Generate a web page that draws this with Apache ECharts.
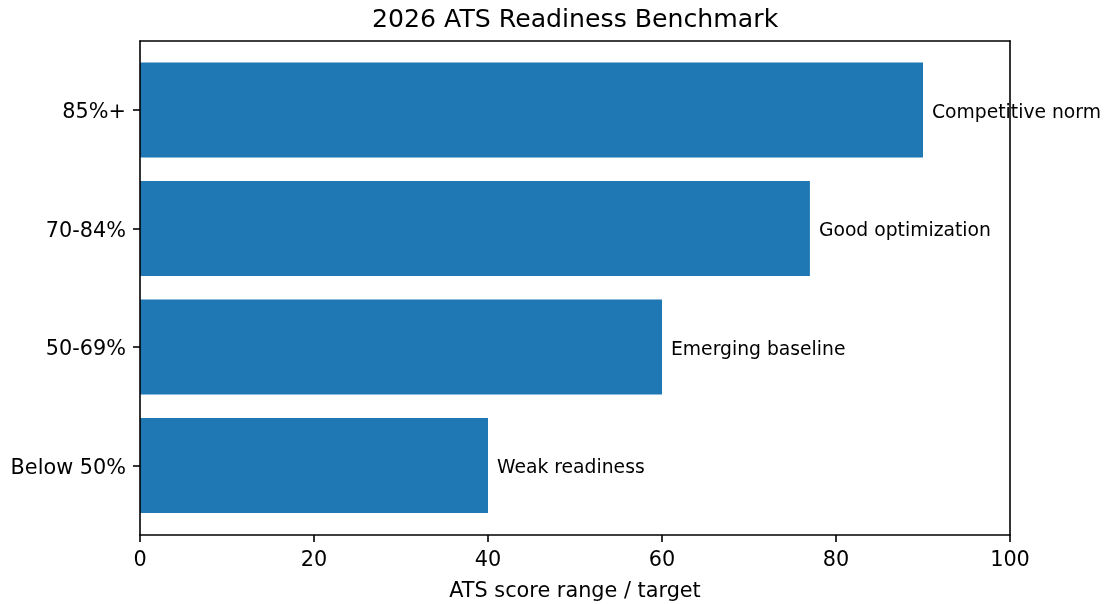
<!DOCTYPE html>
<html>
<head>
<meta charset="utf-8">
<script src="https://cdn.jsdelivr.net/npm/echarts@6/dist/echarts.min.js"></script>
<style>html,body{margin:0;padding:0;background:#fff;}#c{width:1106px;height:604px;}</style>
</head>
<body>
<div id="c"></div>
<script>
const categories = ['85%+', '70-84%', '50-69%', 'Below 50%'];
const values = [90, 77, 60, 40];
const barLabels = ['Competitive norm', 'Good optimization', 'Emerging baseline', 'Weak readiness'];
const xTicks = [0, 20, 40, 60, 80, 100];

const FONT = 'DejaVu Sans';
const chart = echarts.init(document.getElementById('c'), null, {renderer: 'canvas'});
const lineStyle = {color: '#000', width: 1.6};
const option = {
  animation: false,
  backgroundColor: '#fff',
  title: {
    text: '2026 ATS Readiness Benchmark',
    left: 367, top: 3,
    textStyle: {fontFamily: FONT, fontSize: 25.2, fontWeight: 'normal', color: '#000'}
  },
  grid: [
    {left: 140, right: 96, top: 50.75, height: 474, outerBoundsMode: 'none'},
    {left: 140, right: 96, top: 41, height: 494, outerBoundsMode: 'none'},
    {left: 140, right: 96, top: 53.75, height: 474, outerBoundsMode: 'none'}
  ],
  xAxis: [
    {gridIndex: 0, type: 'value', min: xTicks[0], max: xTicks[xTicks.length - 1], show: false},
    {gridIndex: 1, type: 'value', min: xTicks[0], max: xTicks[xTicks.length - 1], interval: 20,
     position: 'bottom', z: 10,
     axisLine: {show: true, onZero: false, lineStyle: lineStyle},
     axisTick: {show: true, length: 7, lineStyle: lineStyle},
     axisLabel: {show: true, margin: 15, fontFamily: FONT, fontSize: 20.8, color: '#000'},
     splitLine: {show: false},
     name: 'ATS score range / target', nameLocation: 'middle', nameGap: 46,
     nameTextStyle: {fontFamily: FONT, fontSize: 20.8, color: '#000'}},
    {gridIndex: 1, type: 'value', min: 0, max: 100, position: 'top', z: 10,
     axisLine: {show: true, onZero: false, lineStyle: lineStyle}, axisTick: {show: false},
     axisLabel: {show: false}, splitLine: {show: false}},
    {gridIndex: 2, type: 'value', min: 0, max: 100, show: false}
  ],
  yAxis: [
    {gridIndex: 0, type: 'category', data: categories, inverse: true,
     axisLine: {show: false},
     axisTick: {show: true, alignWithLabel: true, length: 7, lineStyle: lineStyle},
     axisLabel: {show: false},
     splitLine: {show: false}},
    {gridIndex: 1, type: 'value', min: 0, max: 1, position: 'left', z: 10,
     axisLine: {show: true, onZero: false, lineStyle: lineStyle}, axisTick: {show: false},
     axisLabel: {show: false}, splitLine: {show: false}},
    {gridIndex: 1, type: 'value', min: 0, max: 1, position: 'right', z: 10,
     axisLine: {show: true, onZero: false, lineStyle: lineStyle}, axisTick: {show: false},
     axisLabel: {show: false}, splitLine: {show: false}},
    {gridIndex: 2, type: 'category', data: categories, inverse: true,
     axisLine: {show: false}, axisTick: {show: false},
     axisLabel: {margin: 14, fontFamily: FONT, fontSize: 20.8, color: '#000'},
     splitLine: {show: false}}
  ],
  series: [{
    type: 'bar',
    xAxisIndex: 0, yAxisIndex: 0,
    data: values,
    barCategoryGap: '20%',
    itemStyle: {color: '#1f77b4'},
    label: {
      show: true, position: 'right', distance: 9, offset: [0, 3],
      formatter: p => barLabels[p.dataIndex],
      fontFamily: FONT, fontSize: 18.75, color: '#000'
    }
  }]
};
chart.setOption(option);
</script>
</body>
</html>
